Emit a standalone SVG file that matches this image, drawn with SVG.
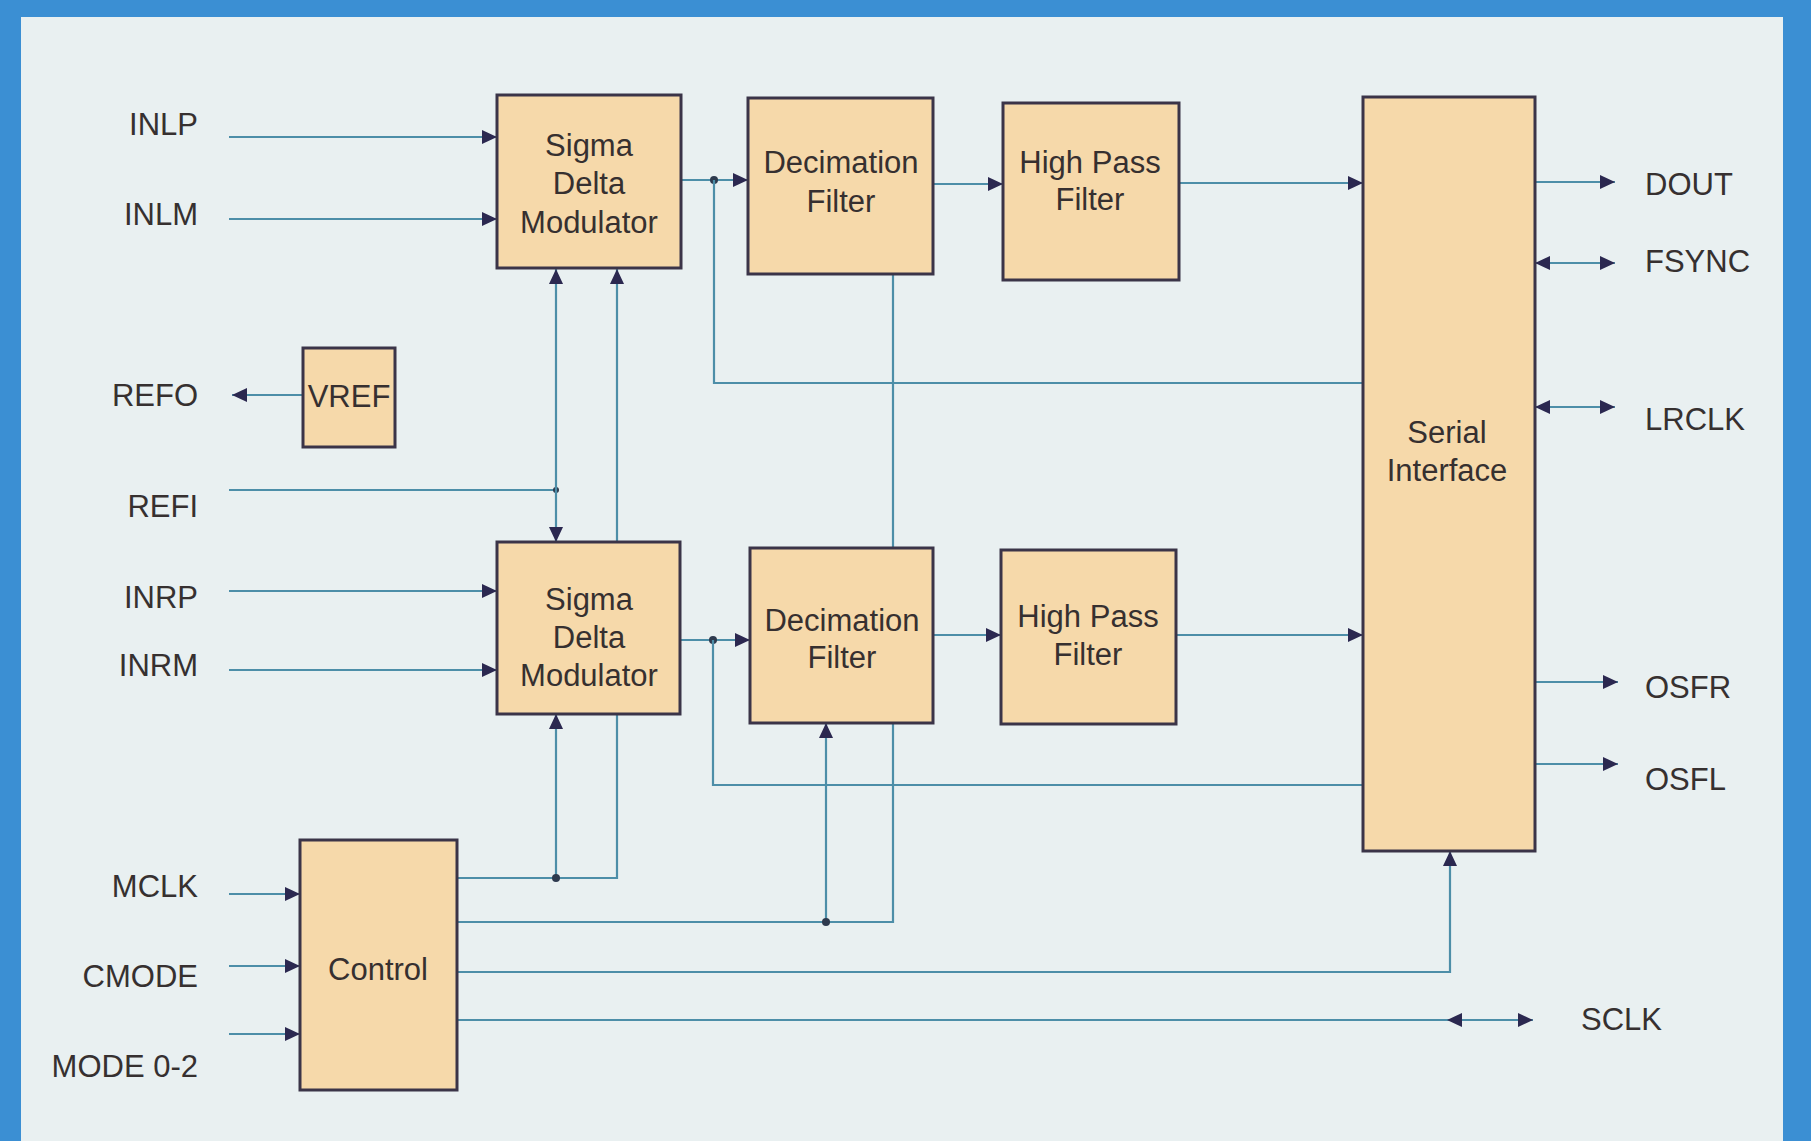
<svg xmlns="http://www.w3.org/2000/svg" width="1811" height="1141" viewBox="0 0 1811 1141">
<style>
.box{fill:#f6d9aa;stroke:#3b3448;stroke-width:3}
.t{font-family:"Liberation Sans",Arial,sans-serif;font-size:31px;fill:#363030}
.c{text-anchor:middle}
.e{text-anchor:end}
.w{fill:none;stroke:#4d8ea8;stroke-width:2.2}
.dot{fill:#2e3a4e}
</style>
<defs>
<marker id="ah" markerUnits="userSpaceOnUse" markerWidth="16" markerHeight="14" refX="15" refY="7" orient="auto-start-reverse">
<path d="M0,0 L15,7 L0,14 z" fill="#2b2850"/>
</marker>
</defs>
<rect x="0" y="0" width="1811" height="1141" fill="#3b8fd3"/>
<rect x="21" y="17" width="1762" height="1130" fill="#e9f0f1"/>

<g id="connectors">
<line class="w" x1="229" y1="137" x2="497" y2="137" marker-end="url(#ah)"/>
<line class="w" x1="229" y1="219" x2="497" y2="219" marker-end="url(#ah)"/>
<line class="w" x1="303" y1="395" x2="232" y2="395" marker-end="url(#ah)"/>
<line class="w" x1="229" y1="490" x2="556" y2="490"/>
<circle class="dot" cx="556" cy="490" r="3"/>
<line class="w" x1="229" y1="591" x2="497" y2="591" marker-end="url(#ah)"/>
<line class="w" x1="229" y1="670" x2="497" y2="670" marker-end="url(#ah)"/>
<line class="w" x1="229" y1="894" x2="300" y2="894" marker-end="url(#ah)"/>
<line class="w" x1="229" y1="966" x2="300" y2="966" marker-end="url(#ah)"/>
<line class="w" x1="229" y1="1034" x2="300" y2="1034" marker-end="url(#ah)"/>
<line class="w" x1="556" y1="269" x2="556" y2="542" marker-start="url(#ah)" marker-end="url(#ah)"/>
<line class="w" x1="617" y1="542" x2="617" y2="269" marker-end="url(#ah)"/>
<polyline class="w" points="457,878 617,878 617,714"/>
<line class="w" x1="556" y1="878" x2="556" y2="714" marker-end="url(#ah)"/>
<circle class="dot" cx="556" cy="878" r="4"/>
<line class="w" x1="681" y1="180" x2="748" y2="180" marker-end="url(#ah)"/>
<circle class="dot" cx="714" cy="180" r="4"/>
<polyline class="w" points="714,180 714,383 1363,383"/>
<line class="w" x1="933" y1="184" x2="1003" y2="184" marker-end="url(#ah)"/>
<line class="w" x1="1179" y1="183" x2="1363" y2="183" marker-end="url(#ah)"/>
<line class="w" x1="893" y1="274" x2="893" y2="549"/>
<line class="w" x1="680" y1="640" x2="750" y2="640" marker-end="url(#ah)"/>
<circle class="dot" cx="713" cy="640" r="4"/>
<polyline class="w" points="713,640 713,785 1363,785"/>
<line class="w" x1="933" y1="635" x2="1001" y2="635" marker-end="url(#ah)"/>
<line class="w" x1="1176" y1="635" x2="1363" y2="635" marker-end="url(#ah)"/>
<polyline class="w" points="457,922 893,922 893,723"/>
<line class="w" x1="826" y1="922" x2="826" y2="723" marker-end="url(#ah)"/>
<circle class="dot" cx="826" cy="922" r="4"/>
<polyline class="w" points="457,972 1450,972 1450,851" marker-end="url(#ah)"/>
<line class="w" x1="457" y1="1020" x2="1447" y2="1020"/>
<line class="w" x1="1447" y1="1020" x2="1533" y2="1020" marker-start="url(#ah)" marker-end="url(#ah)"/>
<line class="w" x1="1535" y1="182" x2="1615" y2="182" marker-end="url(#ah)"/>
<line class="w" x1="1535" y1="263" x2="1615" y2="263" marker-start="url(#ah)" marker-end="url(#ah)"/>
<line class="w" x1="1535" y1="407" x2="1615" y2="407" marker-start="url(#ah)" marker-end="url(#ah)"/>
<line class="w" x1="1535" y1="682" x2="1618" y2="682" marker-end="url(#ah)"/>
<line class="w" x1="1535" y1="764" x2="1618" y2="764" marker-end="url(#ah)"/>
</g>

<g id="sdm-top">
<rect class="box" x="497" y="95" width="184" height="173"/>
<text class="t c" x="589" y="156">Sigma</text>
<text class="t c" x="589" y="194">Delta</text>
<text class="t c" x="589" y="233">Modulator</text>
</g>
<g id="dec-top">
<rect class="box" x="748" y="98" width="185" height="176"/>
<text class="t c" x="841" y="173">Decimation</text>
<text class="t c" x="841" y="212">Filter</text>
</g>
<g id="hpf-top">
<rect class="box" x="1003" y="103" width="176" height="177"/>
<text class="t c" x="1090" y="173">High Pass</text>
<text class="t c" x="1090" y="210">Filter</text>
</g>
<g id="serial">
<rect class="box" x="1363" y="97" width="172" height="754"/>
<text class="t c" x="1447" y="443">Serial</text>
<text class="t c" x="1447" y="481">Interface</text>
</g>
<g id="vref">
<rect class="box" x="303" y="348" width="92" height="99"/>
<text class="t c" x="349" y="407">VREF</text>
</g>
<g id="sdm-bottom">
<rect class="box" x="497" y="542" width="183" height="172"/>
<text class="t c" x="589" y="610">Sigma</text>
<text class="t c" x="589" y="648">Delta</text>
<text class="t c" x="589" y="686">Modulator</text>
</g>
<g id="dec-bottom">
<rect class="box" x="750" y="548" width="183" height="175"/>
<text class="t c" x="842" y="631">Decimation</text>
<text class="t c" x="842" y="668">Filter</text>
</g>
<g id="hpf-bottom">
<rect class="box" x="1001" y="550" width="175" height="174"/>
<text class="t c" x="1088" y="627">High Pass</text>
<text class="t c" x="1088" y="665">Filter</text>
</g>
<g id="control">
<rect class="box" x="300" y="840" width="157" height="250"/>
<text class="t c" x="378" y="980">Control</text>
</g>

<g id="labels">
<text class="t e" x="198" y="135">INLP</text>
<text class="t e" x="198" y="225">INLM</text>
<text class="t e" x="198" y="406">REFO</text>
<text class="t e" x="198" y="517">REFI</text>
<text class="t e" x="198" y="608">INRP</text>
<text class="t e" x="198" y="676">INRM</text>
<text class="t e" x="198" y="897">MCLK</text>
<text class="t e" x="198" y="987">CMODE</text>
<text class="t e" x="198" y="1077">MODE 0-2</text>
<text class="t" x="1645" y="195">DOUT</text>
<text class="t" x="1645" y="272">FSYNC</text>
<text class="t" x="1645" y="430">LRCLK</text>
<text class="t" x="1645" y="698">OSFR</text>
<text class="t" x="1645" y="790">OSFL</text>
<text class="t" x="1581" y="1030">SCLK</text>
</g>
</svg>
